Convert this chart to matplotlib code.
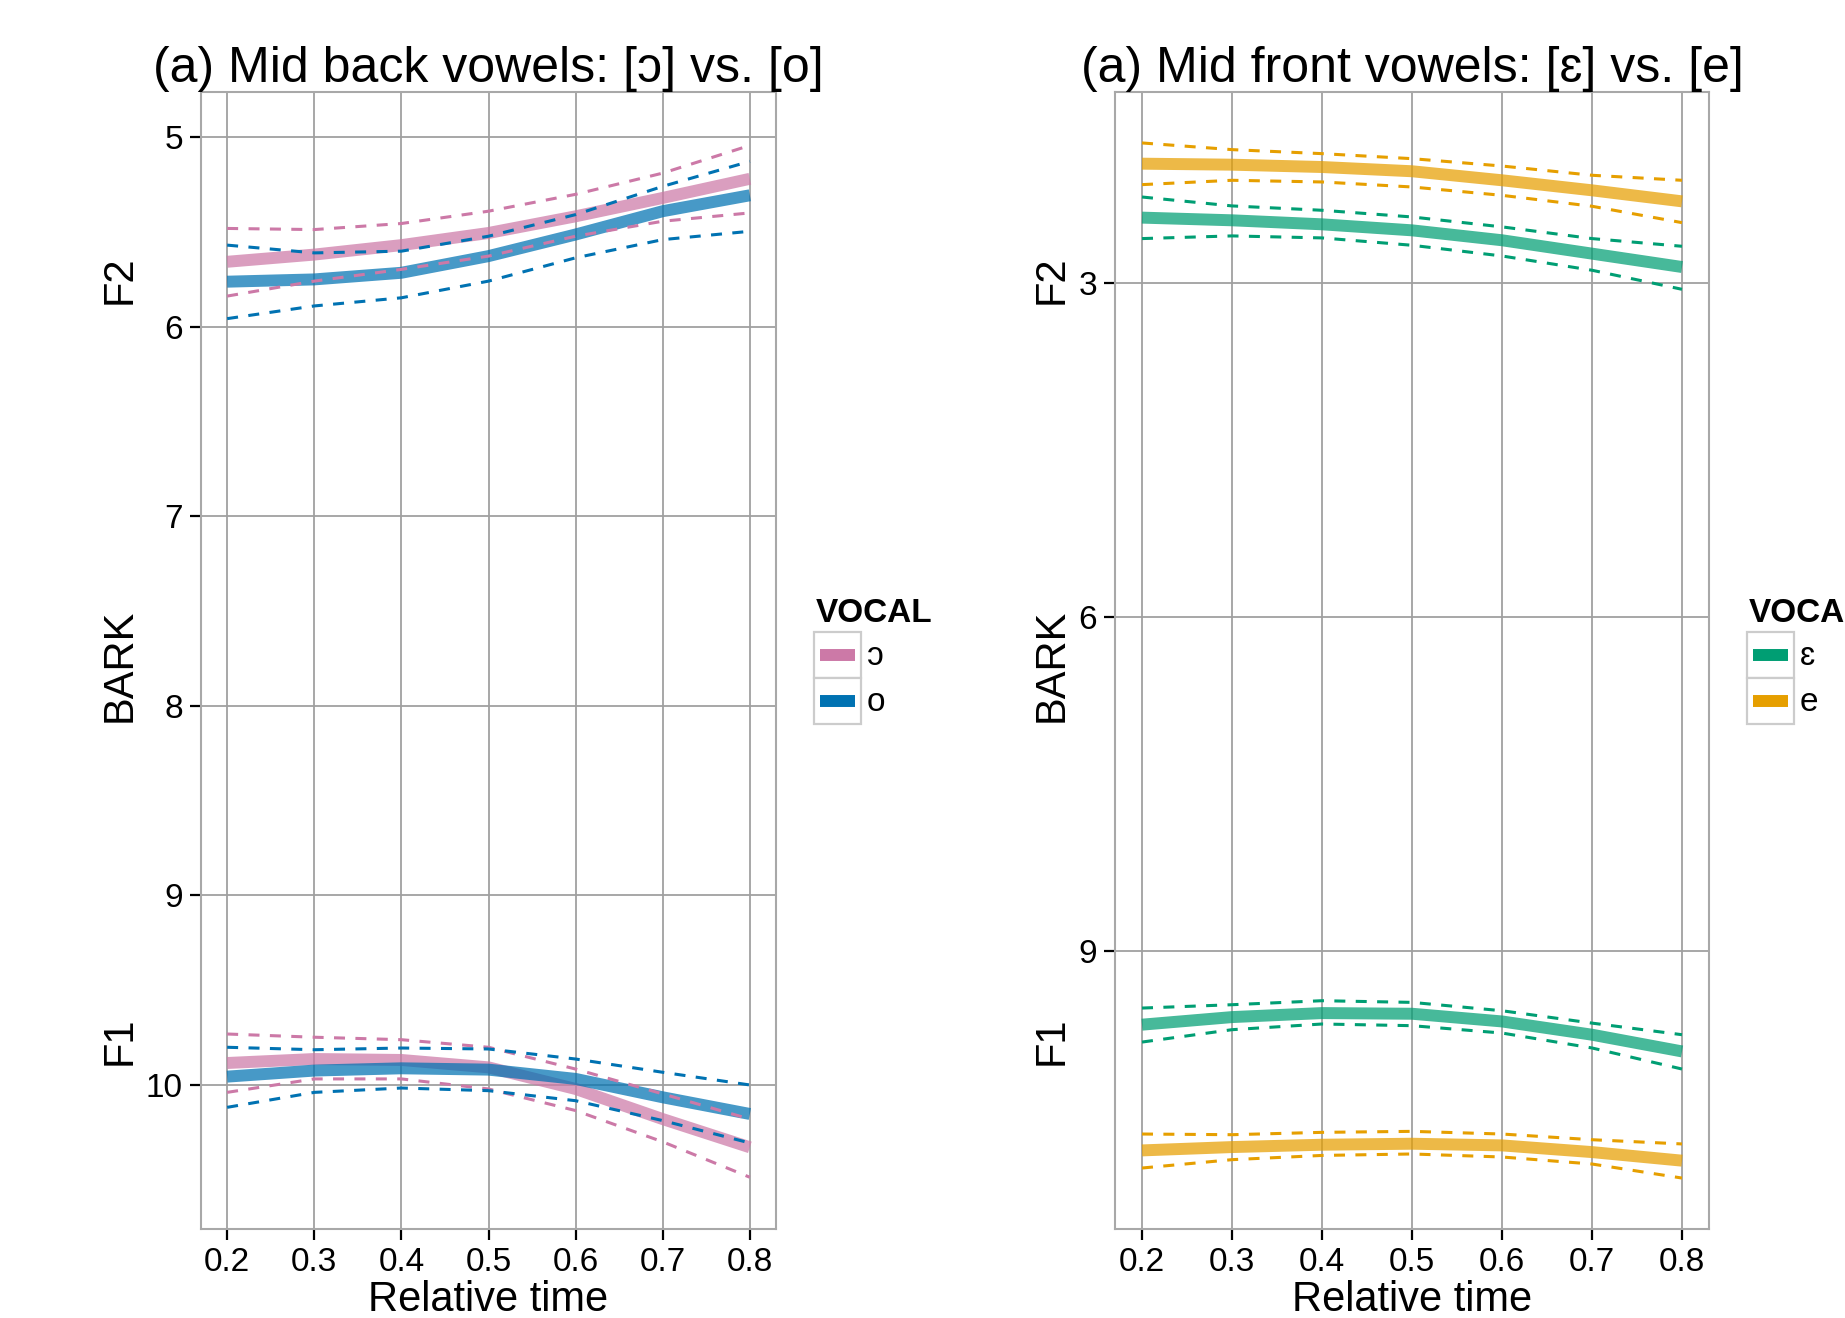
import matplotlib
matplotlib.use("Agg")
import matplotlib.pyplot as plt
from matplotlib.lines import Line2D
from matplotlib.patches import Rectangle

plt.rcParams['font.family'] = ['Liberation Sans', 'DejaVu Sans']

# ---------------- data ----------------
time = [0.2, 0.3, 0.4, 0.5, 0.6, 0.7, 0.8]

# Mid back vowels (BARK)
back_labels = ["ɔ", "o"]
back_colors = ["#CC79A7", "#0072B2"]
# F2
open_o_F2 = [5.656, 5.618, 5.568, 5.504, 5.416, 5.319, 5.218]
open_o_F2_lo = [5.480, 5.486, 5.454, 5.389, 5.300, 5.188, 5.042]
open_o_F2_hi = [5.837, 5.758, 5.696, 5.626, 5.521, 5.442, 5.398]
close_o_F2 = [5.761, 5.749, 5.714, 5.626, 5.512, 5.389, 5.305]
close_o_F2_lo = [5.568, 5.609, 5.600, 5.521, 5.407, 5.258, 5.126]
close_o_F2_hi = [5.956, 5.889, 5.846, 5.758, 5.635, 5.539, 5.495]
# F1
open_o_F1 = [9.884, 9.863, 9.868, 9.907, 10.021, 10.180, 10.329]
open_o_F1_lo = [9.731, 9.748, 9.761, 9.801, 9.916, 10.047, 10.180]
open_o_F1_hi = [10.039, 9.968, 9.968, 10.021, 10.135, 10.300, 10.487]
close_o_F1 = [9.956, 9.924, 9.912, 9.919, 9.968, 10.065, 10.153]
close_o_F1_lo = [9.801, 9.814, 9.805, 9.810, 9.863, 9.933, 10.000]
close_o_F1_hi = [10.118, 10.039, 10.016, 10.030, 10.083, 10.188, 10.306]

# Mid front vowels (BARK)
front_labels = ["ɛ", "e"]
front_colors = ["#009E73", "#E69F00"]
# F2
open_e_F2 = [2.417, 2.441, 2.477, 2.531, 2.620, 2.740, 2.860]
open_e_F2_lo = [2.232, 2.312, 2.351, 2.411, 2.500, 2.605, 2.674]
open_e_F2_hi = [2.605, 2.581, 2.599, 2.665, 2.761, 2.889, 3.060]
close_e_F2 = [1.933, 1.942, 1.963, 2.001, 2.082, 2.172, 2.271]
close_e_F2_lo = [1.747, 1.807, 1.843, 1.888, 1.954, 2.037, 2.082]
close_e_F2_hi = [2.121, 2.082, 2.097, 2.142, 2.217, 2.315, 2.462]
# F1
open_e_F1 = [9.657, 9.589, 9.553, 9.559, 9.628, 9.747, 9.897]
open_e_F1_lo = [9.508, 9.478, 9.442, 9.457, 9.532, 9.643, 9.747]
open_e_F1_hi = [9.813, 9.702, 9.651, 9.666, 9.732, 9.866, 10.055]
close_e_F1 = [10.785, 10.755, 10.734, 10.725, 10.740, 10.800, 10.877]
close_e_F1_lo = [10.638, 10.644, 10.623, 10.614, 10.638, 10.689, 10.727]
close_e_F1_hi = [10.943, 10.868, 10.830, 10.817, 10.844, 10.907, 11.033]

x_ticks = [0.2, 0.3, 0.4, 0.5, 0.6, 0.7, 0.8]
x_ticklabels = ["0.2", "0.3", "0.4", "0.5", "0.6", "0.7", "0.8"]
back_yticks = [5, 6, 7, 8, 9, 10]
front_yticks = [3, 6, 9]

titles = ["(a) Mid back vowels: [ɔ] vs. [o]", "(a) Mid front vowels: [ɛ] vs. [e]"]

# ---------------- figure ----------------
W, H = 1845, 1318
fig = plt.figure(figsize=(W / 100, H / 100), dpi=100)


def fx(p):
    return p / W


def fy(p):
    return 1 - p / H


GRID = "#a0a0a0"
FRAME = "#a8a8a8"


def setup_axes(ax, yticks, ylim):
    ax.set_xlim(0.17, 0.83)
    ax.set_ylim(*ylim)
    ax.set_xticks(x_ticks)
    ax.set_xticklabels(x_ticklabels)
    ax.set_yticks(yticks)
    ax.set_yticklabels([str(t) for t in yticks])
    ax.grid(True, color=GRID, lw=1.3, zorder=0)
    ax.set_axisbelow(True)
    for s in ax.spines.values():
        s.set_color(FRAME)
        s.set_linewidth(1.5)
    ax.tick_params(axis='both', length=8, width=1.6, color='black',
                   labelsize=24, pad=5)


def draw_group(ax, series):
    # series: list of (main, lo, hi, color)
    for main, lo, hi, c in series:
        ax.plot(time, main, color=c, lw=8.6, alpha=0.72, solid_capstyle='butt',
                solid_joinstyle='round', zorder=2)
    for main, lo, hi, c in series:
        for b in (lo, hi):
            ax.plot(time, b, color=c, lw=2.2, ls=(0, (3.6, 3.4)), zorder=3)


axL = fig.add_axes([fx(201), fy(1229), (776 - 201) / W, (1229 - 92) / H])
setup_axes(axL, back_yticks, (10.76, 4.76))
draw_group(axL, [
    (open_o_F2, open_o_F2_lo, open_o_F2_hi, back_colors[0]),
    (close_o_F2, close_o_F2_lo, close_o_F2_hi, back_colors[1]),
    (open_o_F1, open_o_F1_lo, open_o_F1_hi, back_colors[0]),
    (close_o_F1, close_o_F1_lo, close_o_F1_hi, back_colors[1]),
])

axR = fig.add_axes([fx(1115), fy(1229), (1709 - 1115) / W, (1229 - 92) / H])
setup_axes(axR, front_yticks, (11.49, 1.29))
draw_group(axR, [
    (close_e_F2, close_e_F2_lo, close_e_F2_hi, front_colors[1]),
    (open_e_F2, open_e_F2_lo, open_e_F2_hi, front_colors[0]),
    (open_e_F1, open_e_F1_lo, open_e_F1_hi, front_colors[0]),
    (close_e_F1, close_e_F1_lo, close_e_F1_hi, front_colors[1]),
])

# titles
for ax, t in ((axL, titles[0]), (axR, titles[1])):
    pos = ax.get_position()
    fig.text((pos.x0 + pos.x1) / 2, fy(82), t, ha='center', va='baseline', fontsize=36)
    fig.text((pos.x0 + pos.x1) / 2, fy(1311), "Relative time", ha='center',
             va='baseline', fontsize=30)

# y-axis titles
for xc in (120, 1052):
    fig.text(fx(xc), fy(280), "F2", rotation=90, ha='center', va='center', fontsize=30)
    fig.text(fx(xc), fy(665), "BARK", rotation=90, ha='center', va='center', fontsize=30)
    fig.text(fx(xc), fy(1041), "F1", rotation=90, ha='center', va='center', fontsize=30)


# legends
def legend(x0, labels, colors):
    fig.text(fx(x0 + 2), fy(622), "VOCAL", fontsize=24, fontweight='bold',
             ha='left', va='baseline')
    kw, kh = 47, 46
    ytop = 632
    for i, (lab, c) in enumerate(zip(labels, colors)):
        y0 = ytop + i * kh
        fig.add_artist(Rectangle((fx(x0), fy(y0 + kh)), kw / W, kh / H,
                                 transform=fig.transFigure, facecolor='white',
                                 edgecolor='#cccccc', lw=1.6))
        yc = y0 + kh / 2
        fig.add_artist(Line2D([fx(x0 + 6), fx(x0 + kw - 6)], [fy(yc), fy(yc)],
                              transform=fig.transFigure, color=c, lw=8.6,
                              solid_capstyle='butt'))
        fig.text(fx(x0 + kw + 6), fy(yc + 10), lab, fontsize=24, ha='left',
                 va='baseline')


legend(814, back_labels, back_colors)
legend(1747, front_labels, front_colors)

fig.savefig("out.png", dpi=100, facecolor='white')
